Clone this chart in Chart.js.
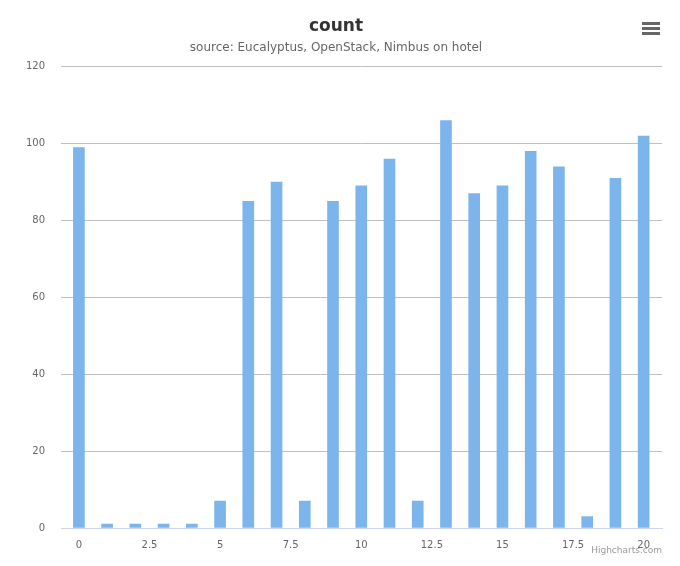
<!DOCTYPE html>
<html><head><meta charset="utf-8">
<script src="https://cdn.jsdelivr.net/npm/chart.js@4"></script>
<style>html,body{margin:0;padding:0;background:#fff}#w{width:680px;height:566px;position:relative}</style>
</head><body><div id="w"><canvas id="c"></canvas></div>
<script>
const xValues=[0,1,2,3,4,5,6,7,8,9,10,11,12,13,14,15,16,17,18,19,20];
const counts=[99,1,1,1,1,7,85,90,7,85,89,96,7,106,87,89,98,94,3,91,102];
const xTicks=[0,2.5,5,7.5,10,12.5,15,17.5,20];
const yTicks=[0,20,40,60,80,100,120];
const extras={id:'extras',afterDraw(ch){const c=ch.ctx;c.save();
c.fillStyle='#666';for(let i=0;i<3;i++){c.fillRect(642,22+i*5,18,3);}
c.fillStyle='#999';c.font='9px "DejaVu Sans"';c.textAlign='right';c.textBaseline='alphabetic';c.fillText('Highcharts.com',662,553);c.restore();}};
new Chart(document.getElementById('c'),{type:'bar',
data:{datasets:[{data:xValues.map((x,i)=>({x:x,y:counts[i]})),backgroundColor:'#7cb5ec',barThickness:11}]},
options:{responsive:true,maintainAspectRatio:false,animation:false,
layout:{padding:{left:10,right:18,top:0,bottom:12}},
plugins:{legend:{display:false},tooltip:{enabled:false},
title:{display:true,text:'count',color:'#333',font:{family:'DejaVu Sans',size:17},padding:{top:16,bottom:4}},
subtitle:{display:true,text:'source: Eucalyptus, OpenStack, Nimbus on hotel',color:'#666',font:{family:'DejaVu Sans',size:12},padding:{bottom:12}}},
scales:{x:{type:'linear',min:-0.63,max:20.65,offset:false,
afterBuildTicks:a=>{a.ticks=xTicks.map(v=>({value:v}));},
grid:{display:false,drawTicks:true,tickLength:8,color:'#ccd6eb'},border:{color:'#ccd6eb'},
ticks:{color:'#666',font:{family:'DejaVu Sans',size:10},maxRotation:0,autoSkip:false}},
y:{min:0,max:120,afterBuildTicks:a=>{a.ticks=yTicks.map(v=>({value:v}));},
grid:{color:'#c0c0c0',drawTicks:false},border:{display:false},
ticks:{color:'#666',font:{family:'DejaVu Sans',size:10},padding:16}}}},
plugins:[extras]});
</script></body></html>
